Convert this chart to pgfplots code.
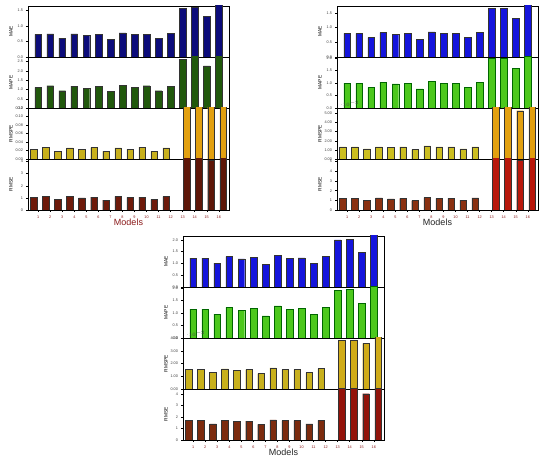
\documentclass[border=0pt]{standalone}
\usepackage{fontspec}
\setmainfont{Liberation Sans}
\usepackage{pgfplots}
\pgfplotsset{compat=1.18}
\definecolor{maeA}{HTML}{0C0C7A}
\definecolor{mapeA}{HTML}{21580C}
\definecolor{rmspeA}{HTML}{C8B01C}
\definecolor{rmseA}{HTML}{6E1A0A}
\definecolor{maeB}{HTML}{1414DC}
\definecolor{mapeB}{HTML}{4CC81C}
\definecolor{rmspeB}{HTML}{CCBE20}
\definecolor{rmseB}{HTML}{8A3010}
\definecolor{hiO}{HTML}{E2A010}
\definecolor{hiR}{HTML}{B8180C}
\definecolor{xt}{HTML}{8B1A1A}
\pgfplotsset{
  sub/.style={scale only axis, width=201pt, height=51pt, anchor=north west,
    xmin=0.15, xmax=16.85, ymin=0, ybar, bar width=6.7pt,
    axis line style={line width=0.9pt, black},
    xtick=\empty, ytick pos=left, tick align=outside, major tick length=2pt,
    tick style={black, line width=0.4pt},
    yticklabel style={font=\fontsize{3.8}{4}\selectfont, color=black!75, xshift=0.5pt},
    /pgf/number format/assume math mode=true,
    /pgf/number format/fixed, /pgf/number format/fixed zerofill,
    every axis y label/.style={at={(axis description cs:0,0.5)}, xshift=-17pt, rotate=90, anchor=center, font=\fontsize{4.8}{5}\selectfont},
    every axis plot/.append style={draw=black!80, line width=0.4pt},
  },
  bot/.style={xtick={1,...,16}, xtick pos=bottom,
    xticklabels={1,2,3,4,5,6,7,8,9,10,11,12,13,14,15,16},
    xticklabel style={font=\fontsize{3.8}{4}\selectfont, color=xt},
    xlabel=Models,
    every axis x label/.style={at={(axis description cs:0.5,0)}, anchor=north, yshift=-5pt, font=\fontsize{9}{10}\selectfont}},
  p1/.style={/pgf/number format/precision=1},
  p2/.style={/pgf/number format/precision=2},
  p0/.style={/pgf/number format/precision=0},
}
\begin{document}
\begin{tikzpicture}
\fill[white] (0pt,0pt) rectangle (550pt,460pt);
% ================= Panel 1 =================
\begin{axis}[sub, p1, at={(28pt,454pt)}, ymax=1.63, ytick={0,0.5,1,1.5}, ylabel=MAE]
\addplot[fill=maeA] coordinates {(1,0.72)(2,0.74)(3,0.60)(4,0.74)(5,0.69)(6,0.73)(7,0.57)(8,0.77)(9,0.72)(10,0.73)(11,0.60)(12,0.75)(13,1.56)(14,1.58)(15,1.31)(16,1.70)};
\end{axis}
\begin{axis}[sub, p1, at={(28pt,403pt)}, ymax=2.75, ytick={0,0.5,1,1.5,2,2.5}, ylabel=MAPE]
\addplot[fill=mapeA] coordinates {(1,1.11)(2,1.20)(3,0.93)(4,1.18)(5,1.07)(6,1.16)(7,0.89)(8,1.21)(9,1.13)(10,1.20)(11,0.93)(12,1.16)(13,2.63)(14,2.85)(15,2.27)(16,2.85)};
\end{axis}
\begin{axis}[sub, p2, at={(28pt,352pt)}, ymax=0.12, ytick={0,0.02,0.04,0.06,0.08,0.10,0.12}, ylabel=RMSPE]
\addplot[fill=rmspeA] coordinates {(1,0.023)(2,0.028)(3,0.018)(4,0.026)(5,0.022)(6,0.027)(7,0.018)(8,0.026)(9,0.023)(10,0.028)(11,0.018)(12,0.026)};
\addplot[fill=hiO] coordinates {(13,0.13)(14,0.13)(15,0.13)(16,0.13)};
\end{axis}
\begin{axis}[sub, p0, bot, at={(28pt,301pt)}, ymax=4.2, ytick={0,1,2,3,4}, ylabel=RMSE, xlabel style={color=xt}]
\addplot[fill=rmseA] coordinates {(1,1.04)(2,1.13)(3,0.87)(4,1.10)(5,0.99)(6,1.07)(7,0.82)(8,1.13)(9,1.04)(10,1.07)(11,0.87)(12,1.10)};
\addplot[fill=rmseA!85!black] coordinates {(13,4.5)(14,4.5)(15,4.12)(16,4.5)};
\end{axis}
% ================= Panel 2 =================
\begin{axis}[sub, p1, at={(337pt,454pt)}, ymax=1.74, ytick={0,0.5,1,1.5}, ylabel=MAE]
\addplot[fill=maeB] coordinates {(1,0.81)(2,0.81)(3,0.66)(4,0.83)(5,0.77)(6,0.80)(7,0.61)(8,0.86)(9,0.80)(10,0.81)(11,0.66)(12,0.83)(13,1.65)(14,1.66)(15,1.31)(16,1.80)};
\end{axis}
\begin{axis}[sub, p1, at={(337pt,403pt)}, ymax=2.05, ytick={0,0.5,1,1.5,2}, ylabel=MAPE]
\addplot[fill=mapeB, draw=black!60!green] coordinates {(1,1.00)(2,1.00)(3,0.82)(4,1.04)(5,0.97)(6,1.00)(7,0.77)(8,1.08)(9,1.00)(10,1.00)(11,0.82)(12,1.04)(13,1.99)(14,2.00)(15,1.58)(16,2.10)};
\end{axis}
\begin{axis}[sub, p2, at={(337pt,352pt)}, ymax=0.056, ytick={0,0.01,0.02,0.03,0.04,0.05}, ylabel=RMSPE]
\addplot[fill=rmspeB] coordinates {(1,0.0132)(2,0.0132)(3,0.0110)(4,0.0132)(5,0.0125)(6,0.0132)(7,0.0103)(8,0.0143)(9,0.0132)(10,0.0132)(11,0.0110)(12,0.0132)};
\addplot[fill=hiO] coordinates {(13,0.06)(14,0.06)(15,0.053)(16,0.06)};
\end{axis}
\begin{axis}[sub, p0, bot, at={(337pt,301pt)}, ymax=5.28, ytick={0,1,2,3,4,5}, ylabel=RMSE, xlabel style={color=black!85}]
\addplot[fill=rmseB] coordinates {(1,1.19)(2,1.19)(3,1.01)(4,1.26)(5,1.15)(6,1.19)(7,0.98)(8,1.29)(9,1.19)(10,1.19)(11,1.01)(12,1.26)};
\addplot[fill=hiR] coordinates {(13,5.5)(14,5.5)(15,5.14)(16,5.5)};
\end{axis}
% ================= Panel 3 =================
\begin{axis}[sub, p1, at={(183pt,224pt)}, ymax=2.16, ytick={0,0.5,1,1.5,2}, ylabel=MAE]
\addplot[fill=maeB] coordinates {(1,1.22)(2,1.22)(3,1.01)(4,1.29)(5,1.19)(6,1.25)(7,0.95)(8,1.34)(9,1.22)(10,1.23)(11,1.01)(12,1.29)(13,2.00)(14,2.03)(15,1.46)(16,2.25)};
\end{axis}
\begin{axis}[sub, p1, at={(183pt,173pt)}, ymax=2.05, ytick={0,0.5,1,1.5,2}, ylabel=MAPE]
\addplot[fill=mapeB, draw=black!60!green] coordinates {(1,1.16)(2,1.16)(3,0.96)(4,1.23)(5,1.12)(6,1.19)(7,0.89)(8,1.29)(9,1.16)(10,1.18)(11,0.96)(12,1.23)(13,1.92)(14,1.95)(15,1.40)(16,2.10)};
\end{axis}
\begin{axis}[sub, p2, at={(183pt,122pt)}, ymax=0.04, ytick={0,0.01,0.02,0.03,0.04}, ylabel=RMSPE]
\addplot[fill=rmspeA] coordinates {(1,0.0152)(2,0.0152)(3,0.0128)(4,0.0157)(5,0.0147)(6,0.0152)(7,0.0120)(8,0.0165)(9,0.0152)(10,0.0152)(11,0.0128)(12,0.0160)};
\addplot[fill=rmspeA!70!hiO] coordinates {(13,0.0384)(14,0.0384)(15,0.0357)(16,0.045)};
\end{axis}
\begin{axis}[sub, p0, bot, at={(183pt,71pt)}, ymax=4.44, ytick={0,1,2,3,4}, ylabel=RMSE, xlabel style={color=black!85}]
\addplot[fill=rmseB!90!black] coordinates {(1,1.68)(2,1.68)(3,1.41)(4,1.71)(5,1.62)(6,1.65)(7,1.35)(8,1.76)(9,1.68)(10,1.68)(11,1.41)(12,1.71)};
\addplot[fill=hiR!80!black] coordinates {(13,4.5)(14,4.5)(15,4.03)(16,4.5)};
\end{axis}
\end{tikzpicture}
\end{document}
